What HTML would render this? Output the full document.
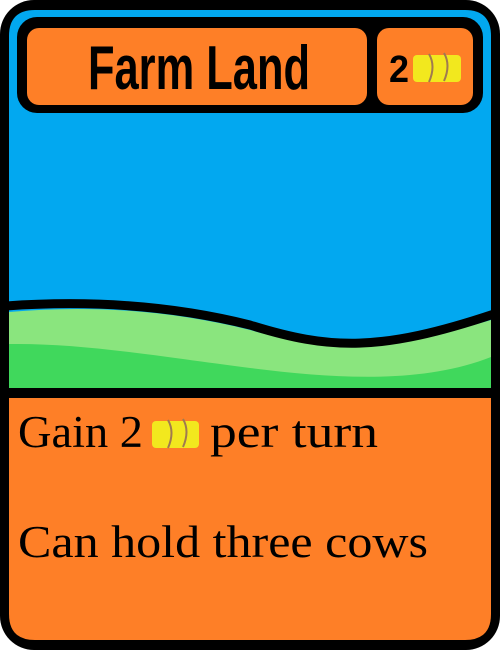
<!DOCTYPE html>
<html><head><meta charset="utf-8"><style>
html,body{margin:0;padding:0;width:500px;height:650px;overflow:hidden;background:#fff}
svg{display:block}
</style></head><body>
<svg width="500" height="650" viewBox="0 0 500 650">
  <rect x="0" y="0" width="500" height="650" rx="34" fill="#000"/>
  <path d="M9 392 V36 Q9 10 35 10 H465 Q491 10 491 36 V392 Z" fill="#02a8f0"/>
  <path d="M9 312 C90 305 170 310 250 330 C330 352 380 352 491 320 V390 H9 Z" fill="#8ae57e"/>
  <path d="M9 344 C80 343 150 355 250 368 C330 378 420 385 491 357 V390 H9 Z" fill="#40d85c"/>
  <path d="M6 306 C90 300 170 305 250 325 C330 350 380 352 494 314" fill="none" stroke="#000" stroke-width="9"/>
  <rect x="9" y="388" width="482" height="10" fill="#000"/>
  <path d="M9 398 H491 V614 Q491 640 465 640 H35 Q9 640 9 614 Z" fill="#fe7f27"/>
  <rect x="17" y="17" width="466" height="96" rx="20" fill="#000"/>
  <rect x="27" y="28" width="340" height="77" rx="12" fill="#fe7f27"/>
  <rect x="377" y="28" width="96" height="77" rx="12" fill="#fe7f27"/>
  <text x="88" y="89" font-family="Liberation Sans Narrow, Liberation Sans, sans-serif" font-weight="bold" font-size="62" textLength="222" lengthAdjust="spacingAndGlyphs" fill="#000">Farm Land</text>
  <text x="389" y="82" font-family="Liberation Sans Narrow, Liberation Sans, sans-serif" font-weight="bold" font-size="38" textLength="20" lengthAdjust="spacingAndGlyphs" fill="#000">2</text>
  <g transform="translate(413 52)">
    <rect x="0" y="3" width="48" height="27" rx="4" fill="#f2e81e"/>
    <path d="M16 2 q7 12 0 28 M31 1 q7 12 0 28" fill="none" stroke="#a07a50" stroke-width="2"/>
  </g>
  <text x="18" y="447" font-family="Liberation Serif, serif" font-size="45" textLength="125" lengthAdjust="spacingAndGlyphs" fill="#000">Gain 2</text>
  <g transform="translate(152 418)">
    <rect x="0" y="3" width="47" height="27" rx="4" fill="#f2e81e"/>
    <path d="M16 2 q7 12 0 28 M31 1 q7 12 0 28" fill="none" stroke="#a07a50" stroke-width="2"/>
  </g>
  <text x="210" y="447" font-family="Liberation Serif, serif" font-size="45" textLength="168" lengthAdjust="spacingAndGlyphs" fill="#000">per turn</text>
  <text x="18" y="557" font-family="Liberation Serif, serif" font-size="45" textLength="410" lengthAdjust="spacingAndGlyphs" fill="#000">Can hold three cows</text>
</svg>
</body></html>
